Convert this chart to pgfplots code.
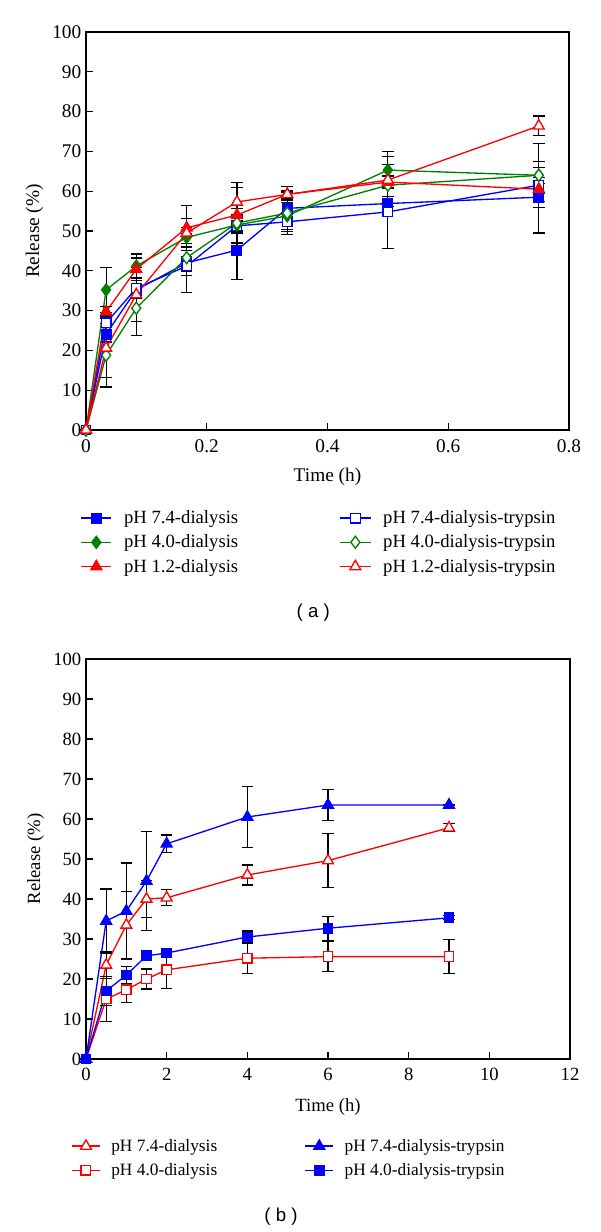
\documentclass[border=0pt]{standalone}
\usepackage{fontspec}
\setmainfont{Liberation Serif}
\newfontfamily\panelfont{Liberation Sans}
\usepackage{pgfplots}
\usepackage{pgfplotstable}
\pgfplotsset{compat=1.18}
\definecolor{dgreen}{RGB}{0,128,0}

% panel (a): time (h), release (%), error
\pgfplotstableread{
t r e
0 0 0
0.0333 24.1 2.0
0.0833 35.2 1.5
0.1667 42.0 7.4
0.25 45.2 7.3
0.3333 55.7 1.5
0.5 56.9 1.7
0.75 58.5 9.0
}\aSevenD
\pgfplotstableread{
t r e
0 0 0
0.0333 26.9 2.0
0.0833 35.6 2.5
0.1667 41.2 2.3
0.25 51.3 4.4
0.3333 52.3 2.0
0.5 54.8 9.2
0.75 61.5 2.0
}\aSevenT
\pgfplotstableread{
t r e
0 0 0
0.0333 35.2 5.6
0.0833 41.2 3.0
0.1667 48.4 2.4
0.25 51.5 2.0
0.3333 53.8 4.0
0.5 65.3 4.6
0.75 64.0 2.0
}\aFourD
\pgfplotstableread{
t r e
0 0 0
0.0333 18.8 8.0
0.0833 30.6 6.9
0.1667 43.3 3.5
0.25 52.0 2.0
0.3333 54.5 5.3
0.5 61.5 5.3
0.75 64.0 8.0
}\aFourT
\pgfplotstableread{
t r e
0 0 0
0.0333 29.7 1.3
0.0833 40.4 2.8
0.1667 50.8 5.7
0.25 54.0 7.0
0.3333 59.2 2.0
0.5 62.3 1.5
0.75 60.5 3.0
}\aOneD
\pgfplotstableread{
t r e
0 0 0
0.0333 20.6 7.5
0.0833 34.0 6.8
0.1667 49.5 3.7
0.25 57.3 4.9
0.3333 59.2 1.0
0.5 62.8 5.9
0.75 76.4 2.5
}\aOneT

% panel (b)
\pgfplotstableread{
t r e
0 0 0
0.5 23.5 3.3
1 33.5 8.3
1.5 40.0 4.6
2 40.3 2.0
4 46.0 2.5
6 49.6 6.8
9 57.8 1.0
}\bSevenD
\pgfplotstableread{
t r e
0 0 0
0.5 34.5 8.0
1 37.0 12.0
1.5 44.5 12.4
2 53.8 2.2
4 60.5 7.7
6 63.5 3.9
9 63.5 0
}\bSevenT
\pgfplotstableread{
t r e
0 0 0
0.5 15.0 5.7
1 17.3 3.2
1.5 20.0 2.5
2 22.3 4.6
4 25.2 3.8
6 25.6 3.8
9 25.6 4.2
}\bFourD
\pgfplotstableread{
t r e
0 0 0
0.5 17.0 3.7
1 21.0 2.2
1.5 25.8 1.0
2 26.5 1.0
4 30.5 1.5
6 32.7 3.0
9 35.3 0.5
}\bFourT

\pgfplotsset{
  release/.style={
    scale only axis, clip=false, anchor=south west,
    axis line style={line width=0.9pt},
    tick align=inside, tick pos=left,
    major tick length=5pt,
    tick style={black, line width=0.8pt},
    ymin=0, ymax=100, ytick={0,10,...,100},
    ylabel={Release (\%)}, xlabel={Time (h)},
    xticklabel style={yshift=-3.5pt},
    /pgf/number format/assume math mode=true,
    legend columns=2,
    legend image code/.code={\draw[mark repeat=2,mark phase=2,##1] plot coordinates {(0cm,0cm) (0.4cm,0cm) (0.8cm,0cm)};},
    legend style={draw=none, fill=none, anchor=north west, inner sep=0pt,
      legend cell align=left, nodes={inner sep=2pt}},
  },
  ser/.style={line width=1pt, mark options={solid, line width=1pt},
    error bars/y dir=both, error bars/y explicit,
    error bars/error bar style={black, line width=0.9pt},
    error bars/error mark options={black, rotate=90, mark size=4.3pt, line width=0.9pt}},
}

\begin{document}
\begin{tikzpicture}
\path[use as bounding box] (0,0) rectangle (450pt,-924pt);

\begin{axis}[release,
  at={(64.5pt,-322.5pt)}, width=362.25pt, height=298.5pt,
  xmin=0, xmax=0.8, xtick={0,0.2,...,0.8},
  tick label style={font=\fontsize{14.5}{17}\selectfont},
  label style={font=\fontsize{14.5}{17}\selectfont},
  xlabel style={yshift=-4.5pt},
  legend style={at={(-0.012,-0.195)}, font=\fontsize{14}{17}\selectfont,
    /tikz/row sep=3pt,
    /tikz/every odd column/.append style={column sep=7pt},
    /tikz/column 2/.style={column sep=74pt}},
]
\addplot[ser, blue, mark=square*, mark size=3.6pt, mark options={fill=blue}] table[x=t,y=r,y error=e] {\aSevenD};
\addlegendentry{pH 7.4-dialysis}
\addplot[ser, blue, mark=square*, mark size=3.6pt, mark options={fill=white}] table[x=t,y=r,y error=e] {\aSevenT};
\addlegendentry{pH 7.4-dialysis-trypsin}
\addplot[ser, dgreen, mark=diamond*, mark size=4.5pt, mark options={fill=dgreen}] table[x=t,y=r,y error=e] {\aFourD};
\addlegendentry{pH 4.0-dialysis}
\addplot[ser, dgreen, mark=diamond*, mark size=4.5pt, mark options={fill=white}] table[x=t,y=r,y error=e] {\aFourT};
\addlegendentry{pH 4.0-dialysis-trypsin}
\addplot[ser, red, mark=triangle*, mark size=4.7pt, mark options={fill=red}] table[x=t,y=r,y error=e] {\aOneD};
\addlegendentry{pH 1.2-dialysis}
\addplot[ser, red, mark=triangle*, mark size=4.7pt, mark options={fill=white}] table[x=t,y=r,y error=e] {\aOneT};
\addlegendentry{pH 1.2-dialysis-trypsin}
\end{axis}

\begin{axis}[release,
  at={(64.5pt,-794.25pt)}, width=363pt, height=300pt,
  xmin=0, xmax=12, xtick={0,2,...,12},
  tick label style={font=\fontsize{14}{17}\selectfont},
  label style={font=\fontsize{14}{17}\selectfont},
  xlabel style={yshift=-6.5pt},
  legend image code/.code={\draw[mark repeat=2,mark phase=2,#1] plot coordinates {(0cm,0cm) (0.37cm,0cm) (0.74cm,0cm)};},
  legend style={at={(-0.031,-0.193)}, font=\fontsize{13}{16}\selectfont,
    /tikz/row sep=3.5pt,
    /tikz/every odd column/.append style={column sep=6pt},
    /tikz/column 2/.style={column sep=63.5pt}},
]
\addplot[ser, red, mark=triangle*, mark size=4.7pt, mark options={fill=white}] table[x=t,y=r,y error=e] {\bSevenD};
\addlegendentry{pH 7.4-dialysis}
\addplot[ser, blue, mark=triangle*, mark size=4.7pt, mark options={fill=blue}] table[x=t,y=r,y error=e] {\bSevenT};
\addlegendentry{pH 7.4-dialysis-trypsin}
\addplot[ser, red, mark=square*, mark size=3.6pt, mark options={fill=white}] table[x=t,y=r,y error=e] {\bFourD};
\addlegendentry{pH 4.0-dialysis}
\addplot[ser, blue, mark=square*, mark size=3.6pt, mark options={fill=blue}] table[x=t,y=r,y error=e] {\bFourT};
\addlegendentry{pH 4.0-dialysis-trypsin}
\end{axis}

\node[font=\panelfont\fontsize{14}{16}\selectfont] at (235pt,-459.75pt) {( a )};
\node[font=\panelfont\fontsize{14}{16}\selectfont] at (210.75pt,-912.75pt) {( b )};
\end{tikzpicture}
\end{document}
